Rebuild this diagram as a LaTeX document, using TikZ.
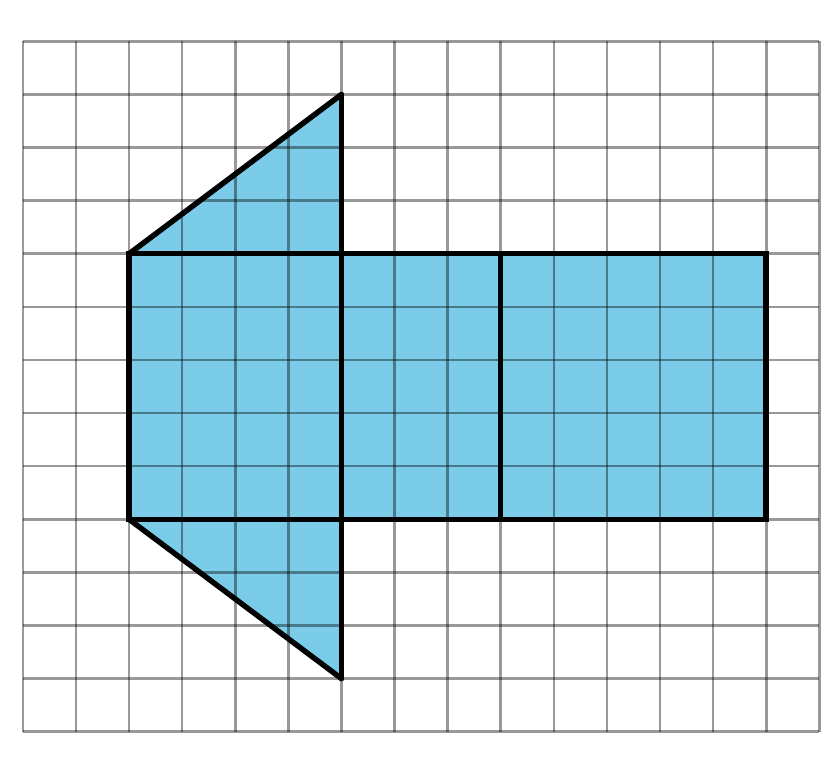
\documentclass[tikz,border=0pt]{standalone}
\usepackage{xcolor}
\usepackage{tikz}
\usetikzlibrary{calc}
\definecolor{netblue}{RGB}{122,204,232}

\begin{document}
\begin{tikzpicture}[
    gridline/.style={draw=black, draw opacity=0.4, line width=1.4pt},
    netface/.style={fill=netblue, draw=none},
    netedge/.style={draw=black, line width=2.9pt, line join=miter, line cap=round}
]
    \useasboundingbox[fill=white] (-0.43,-0.72) rectangle (15.39,13.78);

    % Corner points of the net
    \coordinate (apex) at (6,12);
    \coordinate (tl) at (2,9);
    \coordinate (bl) at (2,4);
    \coordinate (foot) at (6,1);
    \coordinate (tr) at (14,9);
    \coordinate (br) at (14,4);

    % Faces
    \fill[netface] (tl) -- (apex) -- (6,9) -- (tr) -- (br) -- (6,4) -- (foot) -- (bl) -- cycle;

    % Grid
    \foreach \x in {0,...,15}
        \draw[gridline] (\x,0) -- (\x,13);
    \foreach \y in {0,...,13}
        \draw[gridline] (0,\y) -- (15,\y);

    % Outline of the net
    \draw[netedge] (tl) rectangle (br);
    \draw[netedge] (apex) -- (foot);
    \draw[netedge] (9,9) -- (9,4);
    \draw[netedge] (tl) -- (apex);
    \draw[netedge] (bl) -- (foot);
\end{tikzpicture}
\end{document}
